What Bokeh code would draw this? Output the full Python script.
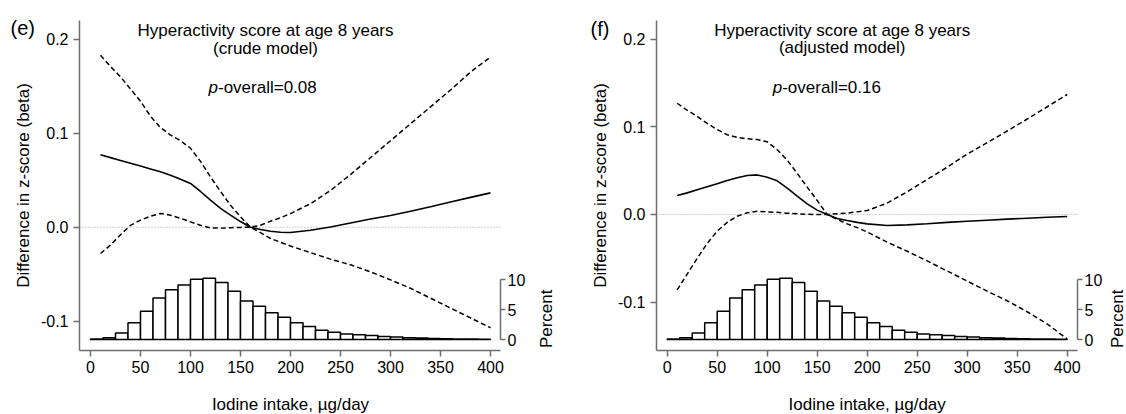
from bokeh.plotting import figure
from bokeh.models import Range1d, LinearAxis, FixedTicker, PrintfTickFormatter, Label
from bokeh.layouts import row
from bokeh.embed import file_html
from bokeh.resources import INLINE

# ---------------- data ----------------
x_knots = [10, 20, 30, 40, 50, 60, 70, 80, 90, 100,
           110, 120, 130, 140, 150, 160, 170, 180, 190, 200,
           220, 240, 260, 280, 300, 320, 340, 360, 380, 400]

# (e) crude model
e_est = [0.077, 0.074, 0.071, 0.068, 0.065, 0.062, 0.059, 0.0553, 0.051, 0.0465,
         0.038, 0.0287, 0.020, 0.0128, 0.006, 0.0, -0.0025, -0.0043, -0.0053, -0.0057,
         -0.0032, 0.0003, 0.0045, 0.0088, 0.0125, 0.017, 0.0218, 0.0268, 0.0317, 0.0365]
e_hi = [0.183, 0.171, 0.160, 0.147, 0.134, 0.118, 0.106, 0.098, 0.092, 0.084,
        0.070, 0.0535, 0.038, 0.0234, 0.011, 0.0, 0.002, 0.0064, 0.010, 0.0145,
        0.025, 0.039, 0.056, 0.074, 0.092, 0.110, 0.128, 0.146, 0.165, 0.181]
e_lo = [-0.028, -0.019, -0.008, 0.002, 0.0075, 0.0117, 0.0146, 0.0128, 0.0095, 0.0057,
        0.002, -0.0007, -0.001, -0.0005, -0.0002, 0.0, -0.0058, -0.012, -0.016, -0.020,
        -0.027, -0.034, -0.040, -0.0475, -0.056, -0.065, -0.0755, -0.086, -0.0965, -0.107]

# (f) adjusted model
f_est = [0.0217, 0.0247, 0.0282, 0.0317, 0.0352, 0.0387, 0.042, 0.0445, 0.0452, 0.0425,
         0.0385, 0.030, 0.021, 0.0122, 0.005, 0.0, -0.0045, -0.0069, -0.009, -0.0107,
         -0.0126, -0.0118, -0.0105, -0.0090, -0.0077, -0.0065, -0.0053, -0.0042, -0.0032, -0.0023]
f_hi = [0.127, 0.119, 0.112, 0.104, 0.097, 0.091, 0.088, 0.0865, 0.0855, 0.083,
        0.074, 0.062, 0.047, 0.0312, 0.016, 0.0, 0.0008, 0.0015, 0.003, 0.0046,
        0.013, 0.026, 0.040, 0.054, 0.069, 0.082, 0.0953, 0.109, 0.123, 0.137]
f_lo = [-0.086, -0.068, -0.050, -0.033, -0.019, -0.009, -0.002, 0.002, 0.0036, 0.003,
        0.0025, 0.0015, 0.0008, 0.0002, 0.0, 0.0, -0.0055, -0.0107, -0.015, -0.020,
        -0.0316, -0.042, -0.053, -0.0645, -0.076, -0.0875, -0.0985, -0.111, -0.125, -0.142]

# histogram of iodine intake (percent per 12.5 ug/day bin)
bin_left = [0, 12.5, 25, 37.5, 50, 62.5, 75, 87.5, 100, 112.5, 125, 137.5, 150, 162.5, 175, 187.5,
            200, 212.5, 225, 237.5, 250, 262.5, 275, 287.5, 300, 312.5, 325, 337.5, 350, 362.5, 375, 387.5]
bin_right = [12.5, 25, 37.5, 50, 62.5, 75, 87.5, 100, 112.5, 125, 137.5, 150, 162.5, 175, 187.5, 200,
             212.5, 225, 237.5, 250, 262.5, 275, 287.5, 300, 312.5, 325, 337.5, 350, 362.5, 375, 387.5, 400]
hist_pct = [0.1, 0.28, 1.1, 2.8, 4.7, 6.9, 8.3, 9.1, 10.05, 10.2, 9.5, 8.05, 6.4, 5.55, 4.45, 3.7,
            2.8, 2.17, 1.55, 1.22, 0.9, 0.78, 0.67, 0.5, 0.4, 0.3, 0.25, 0.18, 0.12, 0.1, 0.07, 0.05]

x_ticks = [0, 50, 100, 150, 200, 250, 300, 350, 400]
y_ticks = [-0.1, 0.0, 0.1, 0.2]
pct_ticks = [0, 5, 10]

title_line1 = "Hyperactivity score at age 8 years"
x_title = "Iodine intake, µg/day"
y_title = "Difference in z-score (beta)"
pct_title = "Percent"

FONT = "Liberation Sans"
AXIS_COL = "#6e6e6e"
H = 414


def style_axis(ax, tick_out, standoff):
    ax.axis_line_color = AXIS_COL
    ax.axis_line_width = 1.5
    ax.major_tick_line_color = AXIS_COL
    ax.major_tick_line_width = 1.5
    ax.major_tick_out = tick_out
    ax.major_tick_in = 0
    ax.minor_tick_line_color = None
    ax.major_label_standoff = standoff
    ax.major_label_text_font = FONT
    ax.major_label_text_font_size = "16px"
    ax.major_label_text_color = "black"
    ax.axis_label = None


def panel(width, xr, yr, xb, yb, est, lo, hi, cfg):
    p = figure(width=width, height=H, x_range=Range1d(*xr), y_range=Range1d(*yr),
               output_backend="svg", toolbar_location=None, title=None,
               min_border=0, min_border_left=0, min_border_right=0,
               min_border_top=0, min_border_bottom=0)
    p.xaxis.visible = False
    p.yaxis.visible = False
    p.grid.visible = False
    p.outline_line_color = None
    p.extra_y_ranges = {"pct": Range1d(-12.5, 56.5)}

    bx = LinearAxis(ticker=FixedTicker(ticks=x_ticks), fixed_location=yb[0], bounds=xb)
    style_axis(bx, 6, 4)
    p.add_layout(bx, "below")

    ly = LinearAxis(ticker=FixedTicker(ticks=y_ticks), formatter=PrintfTickFormatter(format="%.1f"),
                    fixed_location=xb[0], bounds=yb)
    style_axis(ly, 6, 5)
    p.add_layout(ly, "left")

    ry = LinearAxis(y_range_name="pct", ticker=FixedTicker(ticks=pct_ticks),
                    fixed_location=xb[1], bounds=(0, 10))
    style_axis(ry, 5, 2)
    p.add_layout(ry, "right")

    # dotted reference line at zero across the plotting region
    p.line(list(xb), [0, 0], line_color="#a0a0a0", line_dash="1 2", line_width=1)

    p.quad(left=bin_left, right=bin_right, bottom=0, top=hist_pct, y_range_name="pct",
           fill_color="white", line_color="black", line_width=1.5)

    p.line(x_knots, est, line_color="black", line_width=1.6)
    p.line(x_knots, lo, line_color="black", line_width=1.5, line_dash="5 3")
    p.line(x_knots, hi, line_color="black", line_width=1.5, line_dash="5 3")

    c = dict(text_font=FONT, text_color="black", text_baseline="alphabetic")
    p.add_layout(Label(x=175, y=cfg["t1_y"], text=title_line1, text_align="center",
                       text_font_size="17px", **c))
    p.add_layout(Label(x=175, y=cfg["t2_y"], text=cfg["model"], text_align="center",
                       text_font_size="17px", **c))
    p.add_layout(Label(x=cfg["p_split"], y=cfg["p_y"], text="p", text_align="right",
                       text_font_size="17px", text_font_style="italic", **c))
    p.add_layout(Label(x=cfg["p_split"], y=cfg["p_y"], text="-overall=" + cfg["pval"],
                       text_align="left", text_font_size="17px", **c))
    p.add_layout(Label(x=cfg["tag_x"], y=cfg["tag_y"], text=cfg["tag"], text_align="left",
                       text_font_size="20px", **c))
    p.add_layout(Label(x=200, y=cfg["xt_y"], text=x_title, text_align="center",
                       text_font_size="17px", **c))
    p.add_layout(Label(x=cfg["yt_x"], y=cfg["yt_y"], text=y_title, text_align="center",
                       angle=1.5708, text_font_size="17px", **c))
    p.add_layout(Label(x=cfg["pt_x"], y=3.45, y_range_name="pct", text=pct_title,
                       text_align="center", angle=1.5708, text_font_size="17px", **c))
    return p


cfg_e = dict(t1_y=0.2093, t2_y=0.1906, model="(crude model)", p_split=127.5, p_y=0.1486,
             pval="0.08", tag="(e)", tag_x=-80, tag_y=0.2114, xt_y=-0.1886,
             yt_x=-66.7, yt_y=0.0444, pt_x=456)
cfg_f = dict(t1_y=0.2100, t2_y=0.1901, model="(adjusted model)", p_split=115, p_y=0.1450,
             pval="0.16", tag="(f)", tag_x=-76.7, tag_y=0.2123, xt_y=-0.2169,
             yt_x=-66.7, yt_y=0.0331, pt_x=450.3)

pe = panel(570, (-90, 480), (-0.19926, 0.24117), (-11, 410), (-0.1312, 0.2199),
           e_est, e_lo, e_hi, cfg_e)
pf = panel(556, (-96.7, 459.3), (-0.22831, 0.24429), (-10.7, 410.3), (-0.1553, 0.2215),
           f_est, f_lo, f_hi, cfg_f)

layout = row(pe, pf)
open("out.html", "w").write(file_html(layout, INLINE))
